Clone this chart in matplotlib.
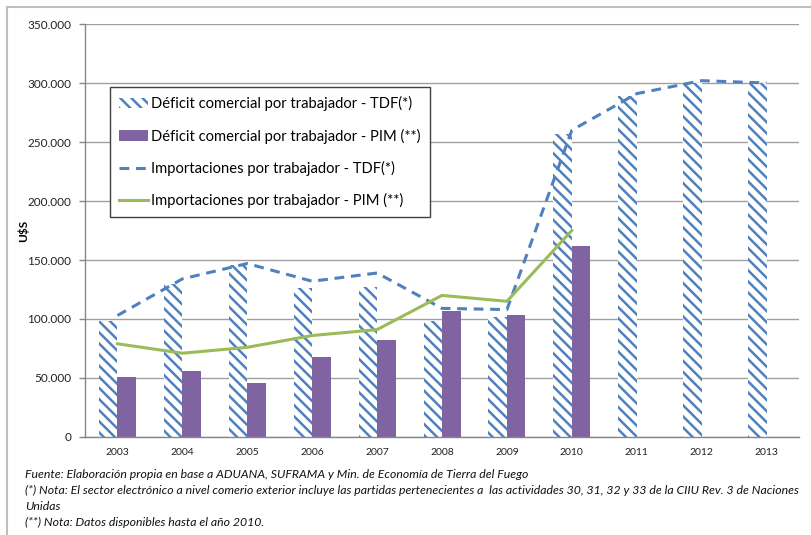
import matplotlib
matplotlib.use("Agg")
import matplotlib.pyplot as plt
from matplotlib.lines import Line2D
from matplotlib.ticker import FuncFormatter
import numpy as np

# datos (US$ por trabajador)
years = ["2003", "2004", "2005", "2006", "2007", "2008", "2009", "2010", "2011", "2012", "2013"]
deficit_tdf = [98000, 130000, 146000, 126000, 127000, 98000, 102000, 257000, 289000, 300000, 300000]
deficit_pim = [51000, 56000, 46000, 68000, 82000, 107000, 103000, 162000]   # hasta 2010
import_tdf = [103000, 134000, 147000, 132000, 139000, 109000, 108000, 260000, 291000, 302000, 300000]
import_pim = [79000, 71000, 76000, 86000, 91000, 120000, 115000, 175000]     # hasta 2010

labels = ["Déficit comercial por trabajador - TDF(*)",
          "Déficit comercial por trabajador - PIM (**)",
          "Importaciones por trabajador - TDF(*)",
          "Importaciones por trabajador - PIM (**)"]

blue = "#4F81BD"
purple = "#8064A2"
green = "#9BBB59"

plt.rcParams["font.family"] = ["Lato", "DejaVu Sans"]
plt.rcParams["hatch.linewidth"] = 1.8
plt.rcParams["hatch.color"] = blue

fig = plt.figure(figsize=(8.12, 5.35), dpi=100)
ax = fig.add_axes([0.1047, 0.1832, 0.8793, 0.7719])

x = np.arange(len(years))
w = 0.285

b1 = ax.bar(x - w / 2, deficit_tdf, width=w, color="white", edgecolor=blue,
            linewidth=0, hatch="\\\\\\", zorder=2)
b2 = ax.bar(x[:len(deficit_pim)] + w / 2, deficit_pim, width=w, color=purple,
            linewidth=0, zorder=2)
l1, = ax.plot(x, import_tdf, color=blue, lw=2.2, dashes=(3.2, 2.2), zorder=3)
l2, = ax.plot(x[:len(import_pim)], import_pim, color=green, lw=2.2, zorder=3)

ax.set_xlim(-0.5, len(years) - 0.5)
ax.set_ylim(0, 350000)
ax.set_yticks(np.arange(0, 350001, 50000))
ax.yaxis.set_major_formatter(FuncFormatter(lambda v, p: f"{int(v):,}".replace(",", ".")))
ax.set_xticks(x)
ax.set_xticklabels(years)
ax.tick_params(axis="x", length=0, labelsize=7.5, pad=8, colors="#222222")
ax.tick_params(axis="y", length=4, width=1, color="#868686", labelsize=8.5,
               pad=6, labelcolor="#222222")

ax.grid(axis="y", color="#A0A0A0", lw=1, zorder=0)
ax.set_axisbelow(True)
for s in ["top", "right"]:
    ax.spines[s].set_visible(False)
for s in ["left", "bottom"]:
    ax.spines[s].set_color("#868686")
    ax.spines[s].set_linewidth(1)

ax.set_ylabel("U$S", fontsize=8.5, fontweight="bold")
ax.yaxis.set_label_coords(-0.078, 0.5)

leg = ax.legend([b1, b2, l1, l2], labels, loc="upper left",
                bbox_to_anchor=(0.035, 0.847), borderaxespad=0,
                fontsize=10.6, frameon=True, fancybox=False, framealpha=1,
                labelspacing=1.18, handlelength=2.0, handletextpad=0.2,
                borderpad=0.6)
leg.get_frame().set_edgecolor("#404040")
leg.get_frame().set_linewidth(1)

# marco exterior del gráfico
fig.add_artist(Line2D([7 / 812, 1], [1 - 7 / 535, 1 - 7 / 535], color="#BFBFBF", lw=1.5))
fig.add_artist(Line2D([7 / 812, 7 / 812], [0, 1 - 7 / 535], color="#BFBFBF", lw=1.5))

notes = ["Fuente: Elaboración propia en base a ADUANA, SUFRAMA y Min. de Economía de Tierra del Fuego",
         "(*) Nota: El sector electrónico a nivel comerio exterior incluye las partidas pertenecientes a  las actividades 30, 31, 32 y 33 de la CIIU Rev. 3 de Naciones",
         "Unidas",
         "(**) Nota: Datos disponibles hasta el año 2010."]
for i, t in enumerate(notes):
    fig.text(25 / 812, 1 - (474 + i * 16) / 535, t, fontsize=8.8, style="italic",
             va="center", ha="left", color="#111111")

fig.savefig("out.png", dpi=100)
